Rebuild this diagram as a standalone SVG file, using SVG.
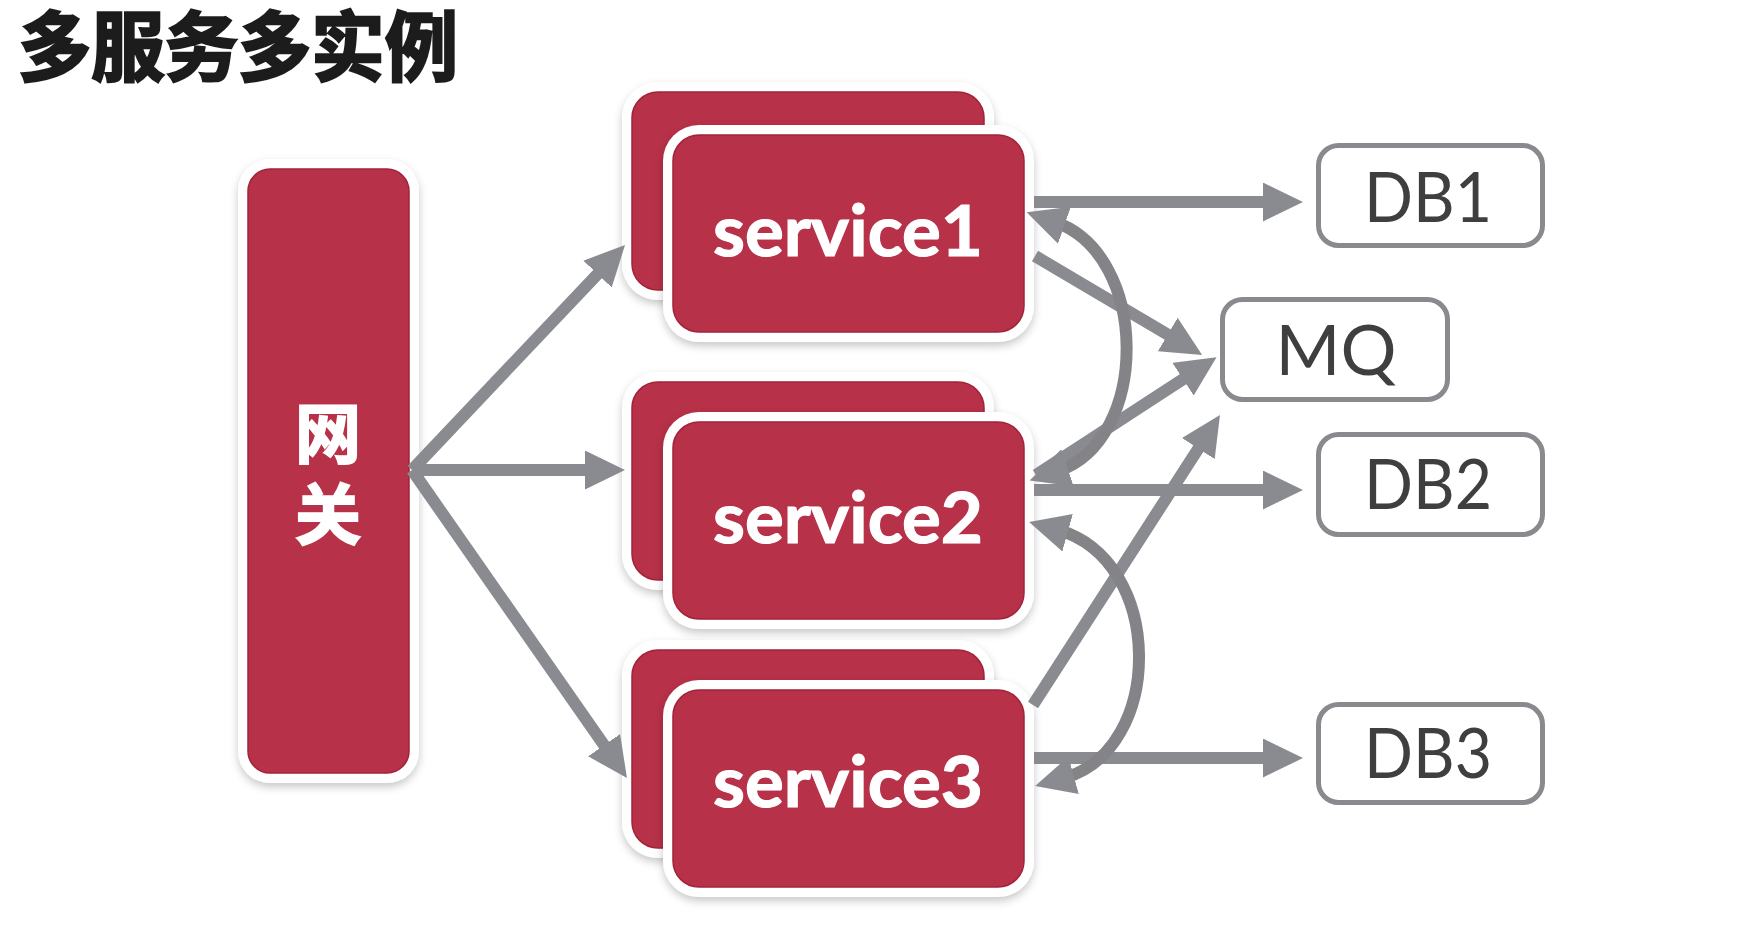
<svg xmlns="http://www.w3.org/2000/svg" width="1752" height="948" viewBox="0 0 1752 948">
<defs>
<filter id="sh" x="-10%" y="-10%" width="120%" height="125%">
<feDropShadow dx="0" dy="4" stdDeviation="4" flood-color="#000" flood-opacity="0.22"/>
</filter>
<marker id="ah" markerUnits="userSpaceOnUse" viewBox="0 0 40 39" markerWidth="40" markerHeight="39" refX="10" refY="19.5" orient="auto-start-reverse">
<path d="M0,0 L40,19.5 L0,39 Z" fill="#8a8b90"/>
</marker>
</defs>
<style>
.card{fill:#fff}
.red{fill:#b73148;stroke:#a3223a;stroke-width:1.5}
.svc{font-family:Lato,"Open Sans","Liberation Sans",sans-serif;font-weight:700;font-size:70px;fill:#fff;stroke:#fff;stroke-width:1.2;text-anchor:middle}
.db{fill:#fff;stroke:#8a8a8e;stroke-width:5}
.dbt{font-family:Lato,"Open Sans","Liberation Sans",sans-serif;font-size:69px;fill:#3f3f3f;text-anchor:middle}
.ln{fill:none;stroke:#8a8b90;stroke-width:12}
.cv{fill:none;stroke:#848488;stroke-width:12}
.cjk{font-family:"Noto Sans CJK SC","Noto Sans CJK JP",sans-serif;font-weight:700}
</style>
<rect width="1752" height="948" fill="#fff"/>
<text x="18" y="75" class="cjk" font-size="76" fill="#1c1c1c" stroke="#1c1c1c" stroke-width="2.5" textLength="440" lengthAdjust="spacingAndGlyphs">多服务多实例</text>

<g id="gateway">
<rect class="card" x="238" y="159" width="181" height="624" rx="32" filter="url(#sh)"/>
<rect class="red" x="248" y="169" width="161" height="604" rx="22"/>
<text x="328" y="458" class="cjk" font-size="66" fill="#fff" stroke="#fff" stroke-width="2" text-anchor="middle">网</text>
<text x="328" y="539" class="cjk" font-size="66" fill="#fff" stroke="#fff" stroke-width="2" text-anchor="middle">关</text>
</g>

<g id="service1">
<rect class="card" x="622" y="82" width="372" height="218" rx="36" filter="url(#sh)"/>
<rect class="red" x="632" y="92" width="352" height="198" rx="26"/>
<rect class="card" x="663" y="125" width="371" height="217" rx="36" filter="url(#sh)"/>
<rect class="red" x="673" y="135" width="351" height="197" rx="26"/>
<text x="848" y="256" class="svc" textLength="270" lengthAdjust="spacingAndGlyphs">service1</text>
</g>

<g id="service2">
<rect class="card" x="622" y="372" width="372" height="218" rx="36" filter="url(#sh)"/>
<rect class="red" x="632" y="382" width="352" height="198" rx="26"/>
<rect class="card" x="663" y="412" width="371" height="217" rx="36" filter="url(#sh)"/>
<rect class="red" x="673" y="422" width="351" height="197" rx="26"/>
<text x="848" y="543" class="svc" textLength="270" lengthAdjust="spacingAndGlyphs">service2</text>
</g>

<g id="service3">
<rect class="card" x="622" y="640" width="372" height="218" rx="36" filter="url(#sh)"/>
<rect class="red" x="632" y="650" width="352" height="198" rx="26"/>
<rect class="card" x="663" y="680" width="371" height="217" rx="36" filter="url(#sh)"/>
<rect class="red" x="673" y="690" width="351" height="197" rx="26"/>
<text x="848" y="807" class="svc" textLength="270" lengthAdjust="spacingAndGlyphs">service3</text>
</g>

<g id="db1">
<rect class="db" x="1318.5" y="145.5" width="224" height="100" rx="20"/>
<text x="1428" y="222" class="dbt" textLength="128" lengthAdjust="spacingAndGlyphs">DB1</text>
</g>
<g id="mq">
<rect class="db" x="1222.5" y="299.5" width="225" height="100" rx="20"/>
<text x="1336" y="375" class="dbt" textLength="121" lengthAdjust="spacingAndGlyphs">MQ</text>
</g>
<g id="db2">
<rect class="db" x="1318.5" y="434.5" width="224" height="100" rx="20"/>
<text x="1428" y="509" class="dbt" textLength="128" lengthAdjust="spacingAndGlyphs">DB2</text>
</g>
<g id="db3">
<rect class="db" x="1318.5" y="704.5" width="224" height="98" rx="20"/>
<text x="1428" y="778" class="dbt" textLength="128" lengthAdjust="spacingAndGlyphs">DB3</text>
</g>

<g id="connectors">
<line class="ln" x1="412" y1="470" x2="604.4" y2="266.8" marker-end="url(#ah)"/>
<line class="ln" x1="412" y1="470" x2="595" y2="470" marker-end="url(#ah)"/>
<line class="ln" x1="412" y1="470" x2="609.8" y2="753.4" marker-end="url(#ah)"/>
<line class="ln" x1="1034" y1="202" x2="1273" y2="202" marker-end="url(#ah)"/>
<line class="ln" x1="1034" y1="490" x2="1273" y2="490" marker-end="url(#ah)"/>
<line class="ln" x1="1034" y1="758" x2="1273" y2="758" marker-end="url(#ah)"/>
<line class="ln" x1="1035" y1="256" x2="1176.3" y2="339.6" marker-end="url(#ah)"/>
<line class="ln" x1="1036" y1="475" x2="1191.4" y2="373.7" marker-end="url(#ah)"/>
<line class="ln" x1="1033" y1="705" x2="1203.7" y2="440.2" marker-end="url(#ah)"/>
<path class="cv" d="M1055,222 C1150,255 1150,440 1058,471" marker-start="url(#ah)" marker-end="url(#ah)"/>
<path class="cv" d="M1058,530 C1165,560 1165,750 1064,778" marker-start="url(#ah)" marker-end="url(#ah)"/>
</g>
</svg>
